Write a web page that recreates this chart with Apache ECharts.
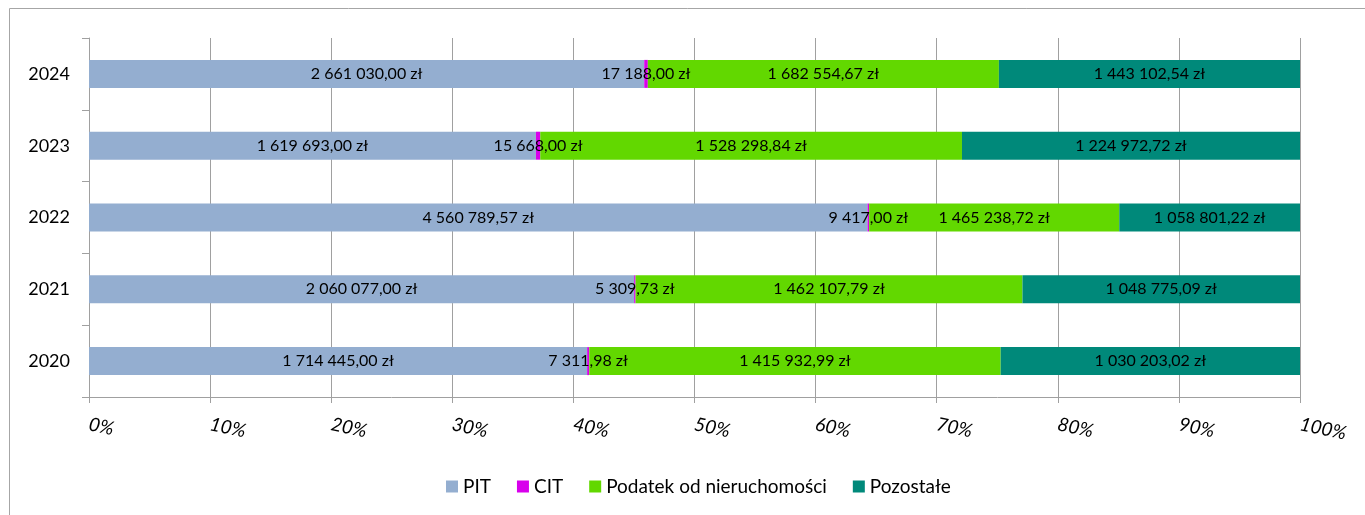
<!DOCTYPE html>
<html><head><meta charset="utf-8">
<script src="https://cdn.jsdelivr.net/npm/echarts@6/dist/echarts.min.js"></script>
<style>html,body{margin:0;padding:0;background:#fff}#c{width:1365px;height:515px}</style>
</head><body><div id="c"></div>
<script>
const years = ['2020', '2021', '2022', '2023', '2024'];
const seriesNames = ['PIT', 'CIT', 'Podatek od nieruchomości', 'Pozostałe'];
const pit = [1714445.00, 2060077.00, 4560789.57, 1619693.00, 2661030.00];
const cit = [7311.98, 5309.73, 9417.00, 15668.00, 17188.00];
const podatek = [1415932.99, 1462107.79, 1465238.72, 1528298.84, 1682554.67];
const pozostale = [1030203.02, 1048775.09, 1058801.22, 1224972.72, 1443102.54];
const xTicks = [0, 10, 20, 30, 40, 50, 60, 70, 80, 90, 100];
const colors = ['#94AED0', '#D800EC', '#62D800', '#00897A'];

const raw = [pit, cit, podatek, pozostale];
const totals = years.map((_, i) => raw.reduce((s, a) => s + a[i], 0));

function fmt(v) {
  const parts = v.toFixed(2).split('.');
  const int = parts[0].replace(/\B(?=(\d{3})+(?!\d))/g, ' ');
  return int + ',' + parts[1] + ' zł';
}

const FONT = 'Lato';
const chart = echarts.init(document.getElementById('c'), null, {renderer: 'canvas'});
chart.setOption({
  animation: false,
  textStyle: {fontFamily: FONT},
  graphic: [{
    type: 'polyline', silent: true,
    shape: {points: [[9.5, 515], [9.5, 8.5], [1365, 8.5]]},
    style: {stroke: '#A6A6A6', lineWidth: 1, fill: null}
  }],
  grid: {left: 89, right: 65, top: 38, bottom: 118, containLabel: false},
  legend: {
    left: 441, top: 472,
    icon: 'rect', itemWidth: 12, itemHeight: 12, itemGap: 26,
    textStyle: {fontSize: 19, color: '#000', fontFamily: FONT},
    data: seriesNames
  },
  xAxis: {
    type: 'value', min: 0, max: 100, interval: 10,
    axisLine: {show: true, lineStyle: {color: '#A0A0A0', width: 1}},
    axisTick: {show: true, length: 6, lineStyle: {color: '#A0A0A0'}},
    splitLine: {show: true, lineStyle: {color: '#A0A0A0', width: 1}},
    axisLabel: {
      rotate: -12, margin: 27, fontSize: 19, fontStyle: 'italic', color: '#000',
      fontFamily: FONT,
      formatter: v => (xTicks.includes(v) ? v + '%' : '')
    }
  },
  yAxis: {
    type: 'category', data: years,
    axisLine: {show: true, lineStyle: {color: '#A0A0A0', width: 1}},
    axisTick: {show: true, length: 7, lineStyle: {color: '#A0A0A0'}},
    splitLine: {show: false},
    axisLabel: {fontSize: 18, color: '#000', margin: 19, fontFamily: FONT}
  },
  series: raw.map((arr, si) => ({
    name: seriesNames[si],
    type: 'bar', stack: 'total', barWidth: 28,
    itemStyle: {color: colors[si]},
    label: {
      show: true, position: 'inside', color: '#000', fontSize: 16, fontFamily: FONT,
      formatter: p => fmt(arr[p.dataIndex])
    },
    labelLayout: {hideOverlap: false},
    data: arr.map((v, i) => v / totals[i] * 100)
  }))
});
</script></body></html>
